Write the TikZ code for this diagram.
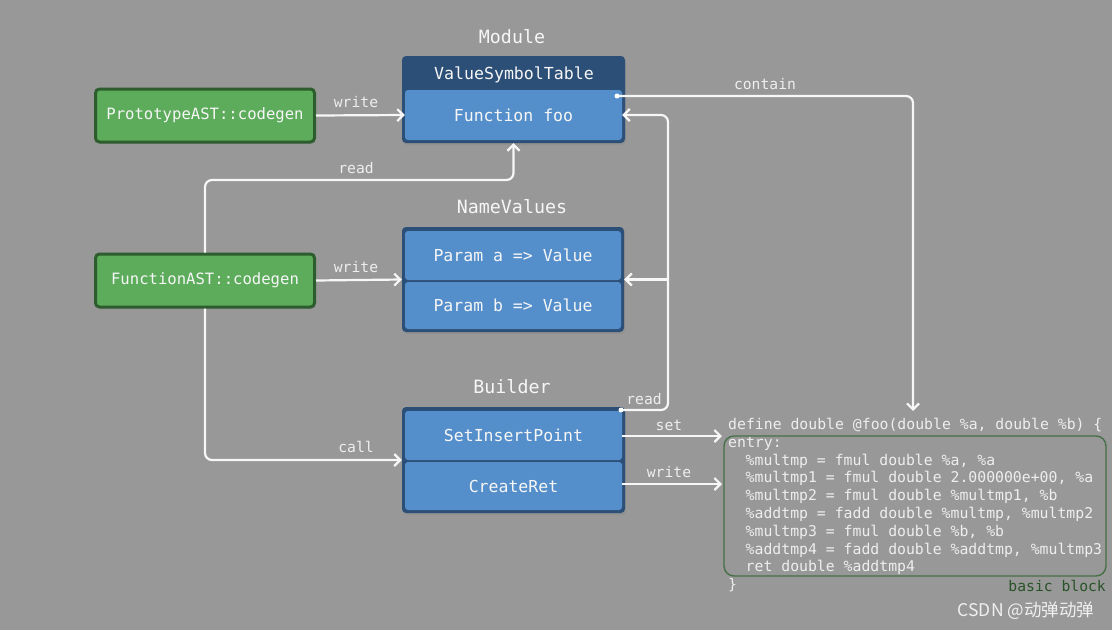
\documentclass[tikz,border=0pt]{standalone}
\usepackage{fontspec}
\newfontfamily\mono{DejaVu Sans Mono}
\newfontfamily\cjkf{Noto Sans CJK SC}
\usetikzlibrary{arrows.meta,shadows,calc}
\definecolor{bg}{RGB}{152,152,152}
\definecolor{navy}{RGB}{44,79,119}
\definecolor{lblue}{RGB}{85,143,203}
\definecolor{lgreen}{RGB}{92,172,92}
\definecolor{dgreen}{RGB}{45,92,45}
\definecolor{bbgreen}{RGB}{70,112,70}
\definecolor{txt}{RGB}{246,246,246}
\definecolor{lbltxt}{RGB}{238,238,238}
\tikzset{
  boxshadow/.style={drop shadow={opacity=0.25,shadow xshift=1pt,shadow yshift=-2pt}},
  outerbox/.style={fill=navy,rounded corners=4pt,inner sep=0pt,boxshadow},
  innerbox/.style={fill=lblue,rounded corners=3pt,inner sep=0pt,text=txt,
    font=\mono\fontsize{16.5}{18}\selectfont},
  greenbox/.style={fill=lgreen,draw=dgreen,line width=3pt,rounded corners=4pt,
    minimum width=219pt,minimum height=53pt,inner sep=0pt,text=txt,boxshadow,
    font=\mono\fontsize{15.6}{18}\selectfont},
  titletxt/.style={text=txt,font=\mono\fontsize{18.3}{20}\selectfont,inner sep=0pt},
  lbl/.style={text=lbltxt,font=\mono\fontsize{14.7}{16}\selectfont,inner sep=0pt},
  codeln/.style={anchor=west,text=lbltxt,font=\mono\fontsize{14.8}{17.8}\selectfont,
    inner sep=0pt,text height=11pt,text depth=3pt},
  conn/.style={draw=white!97!black,line width=2.2pt,rounded corners=7pt,
    -{Straight Barb[length=6pt,width=12pt]}},
  dotc/.style={circle,fill=white,inner sep=0pt,minimum size=5pt}
}
\begin{document}
\begin{tikzpicture}[x=1pt,y=-1pt]
\fill[bg] (0,0) rectangle (1112,630);
\useasboundingbox (0,0) rectangle (1112,630);

% Module
\node[titletxt] (tmodule) at (512,37) {Module};
\node[outerbox,minimum width=223pt,minimum height=87pt] (module) at (513.5,99.5) {};
\node[titletxt,font=\mono\fontsize{16.6}{18}\selectfont] (vst) at (514,75) {ValueSymbolTable};
\node[innerbox,minimum width=217pt,minimum height=50pt] (foo) at (513.5,115) {Function foo};

% green boxes
\node[greenbox] (proto) at (205,115.5) {PrototypeAST::codegen};
\node[greenbox] (func) at (205,280.5) {FunctionAST::codegen};

% NameValues
\node[titletxt] (tnv) at (512,207) {NameValues};
\node[outerbox,minimum width=222pt,minimum height=105pt] (nv) at (513,279.5) {};
\node[innerbox,minimum width=216pt,minimum height=49pt] (pa) at (513,255.5) {Param a => Value};
\node[innerbox,minimum width=216pt,minimum height=47pt] (pb) at (513,305.5) {Param b => Value};

% Builder
\node[titletxt] (tbld) at (512,387) {Builder};
\node[outerbox,minimum width=223pt,minimum height=106pt] (bld) at (513.5,460) {};
\node[innerbox,minimum width=217pt,minimum height=49pt] (sip) at (513.5,435.5) {SetInsertPoint};
\node[innerbox,minimum width=217pt,minimum height=48pt] (cr) at (513.5,486) {CreateRet};

% code
\node[codeln] (c0) at (728,425) {define double @foo(double \%a, double \%b) \{};
\node[codeln] (c1) at (728,443) {entry:};
\node[codeln] (c2) at (745.5,461) {\%multmp = fmul double \%a, \%a};
\node[codeln] (c3) at (745.5,478.8) {\%multmp1 = fmul double 2.000000e+00, \%a};
\node[codeln] (c4) at (745.5,496.6) {\%multmp2 = fmul double \%multmp1, \%b};
\node[codeln] (c5) at (745.5,514.4) {\%addtmp = fadd double \%multmp, \%multmp2};
\node[codeln] (c6) at (745.5,532.2) {\%multmp3 = fmul double \%b, \%b};
\node[codeln] (c7) at (745.5,550) {\%addtmp4 = fadd double \%addtmp, \%multmp3};
\node[codeln] (c8) at (745.5,567.8) {ret double \%addtmp4};
\node[codeln] (c9) at (728,585.6) {\}};
\node[draw=bbgreen,line width=1.4pt,rounded corners=10pt,minimum width=382pt,
  minimum height=140pt,inner sep=0pt] (bb) at (915,506) {};
\node[lbl,text=dgreen!90!black,anchor=east] (bbl) at (1106,585.5) {basic block};

% coordinates
\coordinate (rd) at (360,180);
\coordinate (rs) at (621,410);
\coordinate (rx) at (668,115);
\coordinate (cs) at (617,96);
\coordinate (cx) at (913,96);
\coordinate (ce) at (913,411);
\coordinate (setend) at (722,436);
\coordinate (wrend) at (722,484);

% connectors
\draw[conn] (proto.east) -- (foo.west);
\node[lbl] (l1) at (356,102) {write};
\draw[conn] (func.east) -- (nv.west);
\node[lbl] (l2) at (356,267) {write};
\draw[conn] (func.north) |- (rd) -| (module.south);
\node[lbl] (l3) at (356,168) {read};
\draw[conn] (func.south) |- (bld.west);
\node[lbl] (l4) at (356,447) {call};
\draw[conn] (rs) -| (rx) -- (foo.east);
\draw[conn] (rx |- nv.east) -- (nv.east);
\node[dotc] (d1) at (rs) {};
\node[lbl] (l5) at (644,399) {read};
\draw[conn] (cs) -- (cx) -- (ce);
\node[dotc] (d2) at (cs) {};
\node[lbl] (l6) at (765,84) {contain};
\draw[conn] (sip.east |- setend) -- (setend);
\node[lbl] (l7) at (669,425) {set};
\draw[conn] (cr.east |- wrend) -- (wrend);
\node[lbl] (l8) at (669,472) {write};

% watermark
\node[text=white!94!black,font=\cjkf\fontsize{17.5}{19}\selectfont,inner sep=0pt] (wm) at (1026,611) {CSDN @动弹动弹};
\end{tikzpicture}
\end{document}
